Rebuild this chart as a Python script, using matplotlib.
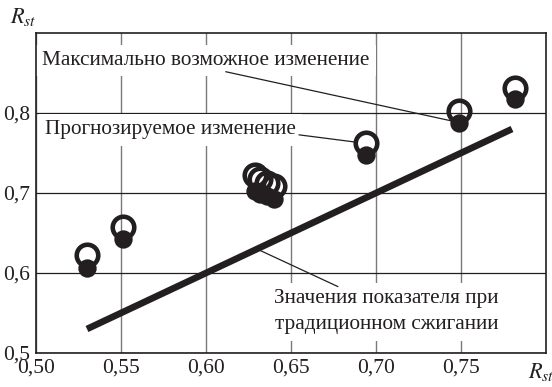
import numpy as np
import matplotlib.pyplot as plt

plt.rcParams['font.family'] = 'serif'
plt.rcParams['font.serif'] = ['Liberation Serif', 'DejaVu Serif']
plt.rcParams['mathtext.fontset'] = 'stix'

# measured points: x, forecast (open) and maximal (filled) values
x_pts = [0.530, 0.551, 0.629, 0.632, 0.636, 0.640, 0.694, 0.749, 0.782]
open_y = [0.622, 0.657, 0.722, 0.717, 0.712, 0.709, 0.762, 0.803, 0.831]
filled_y = [0.606, 0.643, 0.703, 0.699, 0.696, 0.692, 0.747, 0.788, 0.817]

# traditional combustion line
line_x = [0.53, 0.78]
line_y = [0.53, 0.78]

x_ticks = [0.50, 0.55, 0.60, 0.65, 0.70, 0.75]
x_labels = ['0,50', '0,55', '0,60', '0,65', '0,70', '0,75']
y_ticks = [0.5, 0.6, 0.7, 0.8]
y_labels = ['0,5', '0,6', '0,7', '0,8']

ink = '#231f20'

fig = plt.figure(figsize=(5.52, 3.87), dpi=100)
ax = fig.add_axes([36 / 552, 34 / 387, 510 / 552, 320 / 387])
ax.set_xlim(0.50, 0.80)
ax.set_ylim(0.5, 0.9)

ax.set_xticks(x_ticks)
ax.set_xticklabels(x_labels)
ax.set_yticks(y_ticks)
ax.set_yticklabels(y_labels)
ax.tick_params(length=0, labelsize=15.5, colors=ink, pad=4)
ax.grid(axis='x', color='#7a7a7a', lw=1.0, zorder=0)
ax.grid(axis='y', color=ink, lw=0.9, zorder=0)
ax.set_axisbelow(True)
for s in ax.spines.values():
    s.set_linewidth(1.2)
    s.set_color(ink)

ax.plot(line_x, line_y, color=ink, lw=4.8, solid_capstyle='butt', zorder=3)
ax.plot(x_pts, open_y, 'o', ms=15.5, mfc='none', mec=ink, mew=3.3, zorder=4)
ax.plot(x_pts, filled_y, 'o', ms=11, mfc=ink, mec=ink, mew=2.2, zorder=5)

fs = 15.3
box = dict(boxstyle='square,pad=0.3', fc='white', ec='none')
ax.text(0.5035, 0.8655, 'Максимально возможное изменение', fontsize=fs,
        ha='left', va='center', color=ink, bbox=box, zorder=2)
ax.text(0.5053, 0.779, 'Прогнозируемое изменение', fontsize=fs,
        ha='left', va='center', color=ink, bbox=box, zorder=2)
ax.text(0.7062, 0.5515, 'Значения показателя при\nтрадиционном сжигании', fontsize=fs,
        ha='center', va='center', multialignment='center', linespacing=1.5,
        color=ink, bbox=box, zorder=2)

# leader lines
lp = dict(arrowstyle='-', color=ink, lw=0.9, shrinkA=0)
ax.annotate('', xy=(x_pts[7], filled_y[7]), xytext=(0.6116, 0.8516),
            arrowprops=dict(lp, shrinkB=0), zorder=3)
ax.annotate('', xy=(x_pts[6], open_y[6]), xytext=(0.6547, 0.7727),
            arrowprops=dict(lp, shrinkB=8), zorder=3)
ax.annotate('', xy=(0.63, np.interp(0.63, line_x, line_y)), xytext=(0.6776, 0.583),
            arrowprops=dict(lp, shrinkB=0), zorder=3)

fig.text(10 / 552, 1 - 23 / 387, '$R_{st}$', fontsize=16, color=ink, ha='left', va='baseline')
fig.text(528 / 552, 1 - 378 / 387, '$R_{st}$', fontsize=16, color=ink, ha='left', va='baseline')

fig.savefig('out.png', dpi=100)
